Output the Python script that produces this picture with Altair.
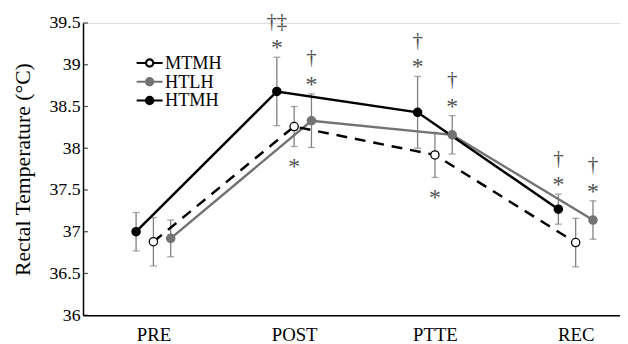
import altair as alt
import pandas as pd
import json

# ---- data ----
phases = ["PRE", "POST", "PTTE", "REC"]
groups = ["MTMH", "HTLH", "HTMH"]

mtmh_mean = [36.88, 38.26, 37.92, 36.87]
mtmh_sd = [0.29, 0.24, 0.27, 0.29]
htlh_mean = [36.92, 38.33, 38.16, 37.14]
htlh_sd = [0.22, 0.32, 0.23, 0.23]
htmh_mean = [37.00, 38.68, 38.43, 37.27]
htmh_sd = [0.23, 0.41, 0.43, 0.18]

star_above = [("POST", "HTMH"), ("POST", "HTLH"), ("PTTE", "HTMH"),
              ("PTTE", "HTLH"), ("REC", "HTMH"), ("REC", "HTLH")]
star_below = [("POST", "MTMH"), ("PTTE", "MTMH")]
daggers = [("POST", "HTMH", "†‡"), ("POST", "HTLH", "†"), ("PTTE", "HTMH", "†"),
           ("PTTE", "HTLH", "†"), ("REC", "HTMH", "†"), ("REC", "HTLH", "†")]

y_ticks = [36, 36.5, 37, 37.5, 38, 38.5, 39, 39.5]

# ---- build tables ----
dodge = {"HTMH": -0.123, "MTMH": 0.0, "HTLH": 0.123}
series = {"MTMH": (mtmh_mean, mtmh_sd), "HTLH": (htlh_mean, htlh_sd), "HTMH": (htmh_mean, htmh_sd)}
rows = []
for g in groups:
    m, s = series[g]
    for i, p in enumerate(phases):
        rows.append(dict(group=g, phase=p, x=i + dodge[g], mean=m[i], lo=m[i] - s[i], hi=m[i] + s[i]))
df = pd.DataFrame(rows)

def lookup(items):
    out = []
    for t in items:
        r = df[(df.phase == t[0]) & (df.group == t[1])].iloc[0].to_dict()
        if len(t) > 2:
            r["sym"] = t[2]
        out.append(r)
    return pd.DataFrame(out)

above_df = lookup(star_above)
below_df = lookup(star_below)
dag_df = lookup(daggers)
tick_df = pd.DataFrame({"v": y_ticks})

FONT = "Liberation Serif"
GRAY = "#737373"
label_expr = json.dumps(phases) + "[datum.value]"

xenc = alt.X("x:Q", scale=alt.Scale(domain=[-0.5, 3.315], nice=False, zero=False),
             axis=alt.Axis(values=[0, 1, 2, 3], labelExpr=label_expr, ticks=False, grid=False,
                           title=None, labelFontSize=19, labelFont=FONT, labelColor="black",
                           labelPadding=11, domainColor="black", domainWidth=1.5))
yscale = alt.Scale(domain=[36, 39.5], nice=False, zero=False)
yaxis = alt.Axis(values=y_ticks, format="~g", title="Rectal Temperature (°C)", grid=False,
                 ticks=False, tickSize=0, labelFontSize=18, labelFont=FONT,
                 labelColor="black", labelPadding=3, domainColor="black", domainWidth=1.5,
                 titleFont=FONT, titleFontSize=22, titleFontWeight="normal", titleColor="black",
                 titlePadding=15)

sym_path = "M-1.6,0H-0.45M0.45,0H1.6M0.45,0A0.45,0.45,0,1,1,-0.45,0A0.45,0.45,0,1,1,0.45,0"
leg = dict(title=None, orient="none", legendX=58, legendY=31, symbolType=sym_path,
           symbolSize=270, symbolStrokeWidth=2.2, labelFontSize=18.5, labelFont=FONT,
           labelColor="black", labelOffset=6, rowPadding=0)
stroke_scale = alt.Scale(domain=groups, range=["black", GRAY, "black"])
fill_scale = alt.Scale(domain=groups, range=["white", GRAY, "black"])

base = alt.Chart(df)

err = base.mark_errorbar(ticks={"size": 7}, thickness=1.3, color="#808080").encode(
    x=xenc, y=alt.Y("lo:Q", scale=yscale, axis=yaxis), y2="hi:Q")

inner_ticks = alt.Chart(tick_df).mark_tick(orient="horizontal", size=5, thickness=1.2,
                                           color="black", xOffset=2.5).encode(
    y=alt.Y("v:Q", scale=yscale), x=alt.value(0))

solid = base.transform_filter(alt.datum.group != groups[0]).mark_line(strokeWidth=2.5).encode(
    x=xenc, y=alt.Y("mean:Q", scale=yscale),
    stroke=alt.Stroke("group:N", scale=stroke_scale, legend=alt.Legend(**leg)))

dashed = base.transform_filter(alt.datum.group == groups[0]).mark_line(
    strokeWidth=2.5, strokeDash=[11, 8]).encode(
    x=xenc, y=alt.Y("mean:Q", scale=yscale),
    stroke=alt.Stroke("group:N", scale=stroke_scale, legend=alt.Legend(**leg)))

points = base.mark_point(size=70, strokeWidth=1.3, filled=True, opacity=1).encode(
    x=xenc, y=alt.Y("mean:Q", scale=yscale),
    fill=alt.Fill("group:N", scale=fill_scale, legend=alt.Legend(**leg)),
    stroke=alt.Stroke("group:N", scale=stroke_scale, legend=alt.Legend(**leg)))

txt = dict(font=FONT, color="#505050", baseline="alphabetic", align="center")
s_above = alt.Chart(above_df).mark_text(dy=-2, fontSize=24, **txt).encode(
    x="x:Q", y=alt.Y("hi:Q", scale=yscale), text=alt.value("*"))
s_below = alt.Chart(below_df).mark_text(dy=28, fontSize=24, **txt).encode(
    x="x:Q", y=alt.Y("lo:Q", scale=yscale), text=alt.value("*"))
d_above = alt.Chart(dag_df).mark_text(dy=-30, fontSize=21, **txt).encode(
    x="x:Q", y=alt.Y("hi:Q", scale=yscale), text="sym:N")

chart = alt.layer(err, inner_ticks, solid, dashed, points, s_above, s_below, d_above).properties(
    width=544, height=296, autosize="none",
    padding={"left": 76, "top": 13, "right": 0, "bottom": 28},
).configure_view(stroke=None).configure(font=FONT).configure_legend(
    labelFont=FONT).configure_axis(labelFont=FONT, titleFont=FONT)

chart.save("out.html", embed_options={"renderer": "svg", "actions": False})
